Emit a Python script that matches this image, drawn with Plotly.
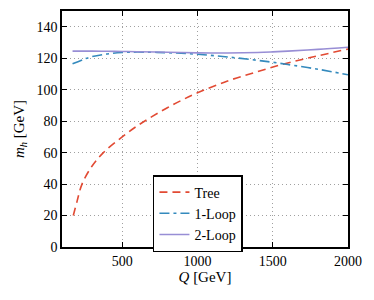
import plotly.graph_objects as go

q_tree = [175, 200, 233, 300, 375, 500, 600, 700, 800, 900, 1000, 1200, 1400, 1600, 1800, 2000]
m_tree = [20, 29, 40, 51.5, 60, 70, 77, 83, 88.5, 93.5, 98, 105.5, 111.5, 117, 121.5, 125.8]

q_loop = [170, 250, 300, 400, 500, 600, 800, 1000, 1200, 1400, 1500, 1600, 1800, 2000]
m_1loop = [116.5, 119.5, 121, 122.7, 123.6, 123.9, 123.5, 122.5, 120.8, 118.6, 117.4, 116, 113, 109.5]
m_2loop = [124.5, 124.5, 124.5, 124.4, 124.3, 124.1, 123.8, 123.4, 123.3, 123.6, 124, 124.5, 125.6, 127]

font = "Liberation Serif"

fig = go.Figure()
fig.add_trace(go.Scatter(x=q_tree, y=m_tree, mode="lines", name="Tree", line_shape="spline",
                         line=dict(color="#E24A33", width=1.6, dash="8px,5px")))
fig.add_trace(go.Scatter(x=q_loop, y=m_1loop, mode="lines", name="1-Loop", line_shape="spline",
                         line=dict(color="#348ABD", width=1.6, dash="10px,4px,3px,4px")))
fig.add_trace(go.Scatter(x=q_loop, y=m_2loop, mode="lines", name="2-Loop", line_shape="spline",
                         line=dict(color="#988ED5", width=1.6)))

axis_common = dict(showline=True, linecolor="black", linewidth=1.5, mirror="ticks",
                   ticks="inside", ticklen=5, tickcolor="black", tickwidth=1,
                   showgrid=True, gridcolor="#a0a0a0", griddash="1px,3px", gridwidth=1,
                   zeroline=False, automargin=False,
                   tickfont=dict(family=font, size=14, color="black"))

fig.update_layout(
    width=374, height=300,
    margin=dict(l=62, r=26, t=11, b=53),
    paper_bgcolor="white", plot_bgcolor="white",
    font=dict(family=font, size=14, color="black"),
    xaxis=dict(range=[100, 2000], tickvals=[500, 1000, 1500, 2000],
               title=dict(text="<i>Q</i> [GeV]", font=dict(family=font, size=15), standoff=4),
               **axis_common),
    yaxis=dict(range=[0, 150], tickvals=[0, 20, 40, 60, 80, 100, 120, 140],
               title=dict(text="<i>m<sub>h</sub></i> [GeV]", font=dict(family=font, size=15), standoff=8),
               **axis_common),
    legend=dict(x=0.318, y=0.305, xanchor="left", yanchor="top",
                bordercolor="black", borderwidth=1.5, bgcolor="white",
                font=dict(family=font, size=14), tracegroupgap=0),
    showlegend=True,
)

fig.write_html("out.html", config={"displayModeBar": False},
               post_script="document.body.style.margin='0';")
